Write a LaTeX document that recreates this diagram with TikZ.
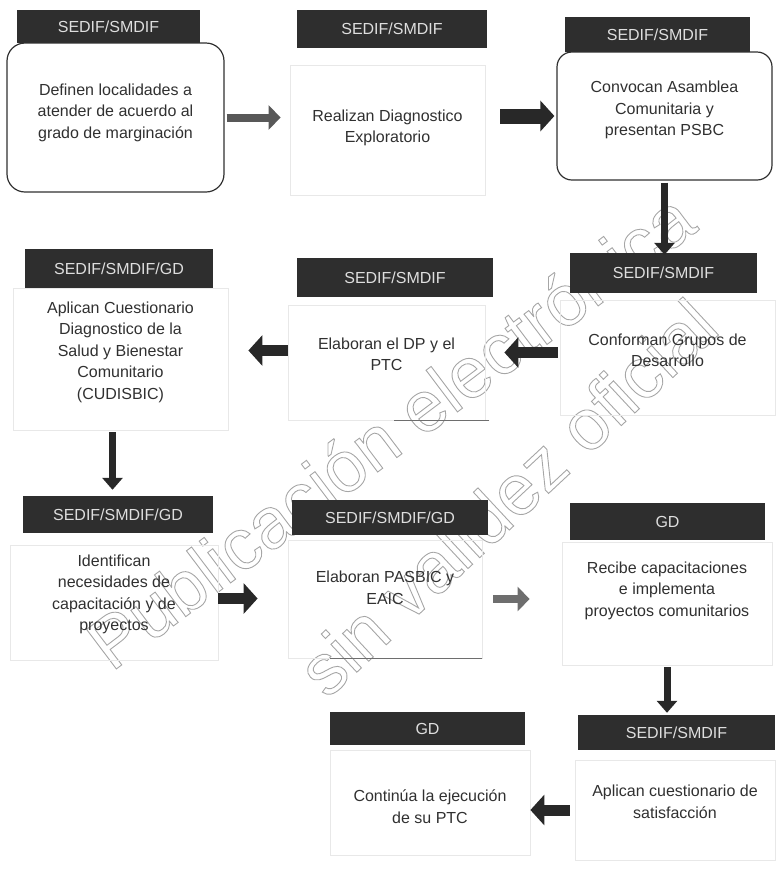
\documentclass[tikz,border=0pt]{standalone}
\usepackage{fontspec}
\setmainfont{Liberation Sans}
\usetikzlibrary{arrows.meta}

\definecolor{hdrgray}{RGB}{46,46,46}
\definecolor{hdrtext}{RGB}{222,222,222}
\definecolor{inkgray}{RGB}{48,48,48}
\definecolor{arrowdark}{RGB}{40,40,40}
\definecolor{arrowmid}{RGB}{88,88,88}
\definecolor{arrowlight}{RGB}{110,110,110}

% outlined letters for the watermark
\newcommand\hollow[1]{\special{pdf:literal direct 1 Tr 0.9 w}#1\special{pdf:literal direct 0 Tr}}

\tikzset{
  hdr/.style={fill=hdrgray, text=hdrtext, inner sep=0pt},
  sz/.style 2 args={minimum width=#1pt, minimum height=#2pt},
  stepbox/.style={draw=black!9, line width=0.8pt, inner sep=0pt},
  roundbox/.style={draw=inkgray, line width=1.2pt, rounded corners=18pt, inner sep=0pt},
  txt/.style={align=center, text=inkgray},
  arr/.style={draw=arrowdark, line width=11pt, -{Triangle[length=14pt, width=30pt]}},
  varr/.style={draw=arrowdark, line width=7pt, -{Triangle[length=12pt, width=20pt]}},
  garr/.style={draw=arrowlight, line width=8pt, -{Triangle[length=12pt, width=24pt]}},
  wmark/.style={text=black!35, font=\fontsize{72}{72}\selectfont}
}

\begin{document}
\begin{tikzpicture}[x=1pt, y=-1pt, font=\fontsize{16}{21.5}\selectfont]
  \useasboundingbox (0,0) rectangle (778,871);

  % watermark
  \node[wmark, rotate=37] (W1) at (390,430) {\hollow{Publicación electrónica}};
  \node[wmark, rotate=43] (W2) at (507,497) {\hollow{sin validez oficial}};

  % headers
  \node[hdr, sz={183}{33}] (H1)  at (108.5,26.5) {SEDIF/SMDIF};
  \node[hdr, sz={190}{38}] (H2)  at (392,29)     {SEDIF/SMDIF};
  \node[hdr, sz={185}{35}] (H3)  at (657.5,34.5) {SEDIF/SMDIF};
  \node[hdr, sz={188}{39}] (H4)  at (119,268.5)  {SEDIF/SMDIF/GD};
  \node[hdr, sz={196}{39}] (H5)  at (395,277.5)  {SEDIF/SMDIF};
  \node[hdr, sz={187}{40}] (H6)  at (663.5,273)  {SEDIF/SMDIF};
  \node[hdr, sz={190}{37}] (H7)  at (118,514.5)  {SEDIF/SMDIF/GD};
  \node[hdr, sz={196}{35}] (H8)  at (390,517.5)  {SEDIF/SMDIF/GD};
  \node[hdr, sz={195}{37}] (H9)  at (667.5,521.5) {GD};
  \node[hdr, sz={195}{33}] (H10) at (427.5,728.5) {GD};
  \node[hdr, sz={197}{35}] (H11) at (676.5,732.5) {SEDIF/SMDIF};

  % step boxes
  \node[roundbox, sz={217}{149}] (B1) at (115.5,117.5) {};
  \node[stepbox,  sz={195}{130}] (B2) at (387.5,130) {};
  \node[roundbox, sz={215}{128}, rounded corners=15pt] (B3) at (664.5,116) {};
  \node[stepbox,  sz={215}{142}] (B4) at (120.5,359) {};
  \node[stepbox,  sz={197}{115}] (B5) at (386.5,362.5) {};
  \node[stepbox,  sz={215}{115}] (B6) at (667.5,357.5) {};
  \node[stepbox,  sz={208}{115}] (B7) at (114,602.5) {};
  \node[stepbox,  sz={194}{118}] (B8) at (385,599) {};
  \node[stepbox,  sz={210}{123}] (B9) at (667,603.5) {};
  \node[stepbox,  sz={200}{105}] (B10) at (430,802.5) {};
  \node[stepbox,  sz={200}{100}] (B11) at (675,810) {};
  \draw[inkgray!70, line width=1pt] ([xshift=4pt]B5.south east) -- ++(-95,0);
  \draw[inkgray!70, line width=1pt] (B8.south east) -- ++(-152,0);

  % texts
  \node[txt, yshift=5pt]  (T1)  at (B1)  {Definen localidades a\\atender de acuerdo al\\grado de marginación};
  \node[txt, yshift=2pt]  (T2)  at (B2)  {Realizan Diagnostico\\Exploratorio};
  \node[txt, yshift=6pt]  (T3)  at (B3)  {Convocan Asamblea\\Comunitaria y\\presentan PSBC};
  \node[txt, yshift=7pt]  (T4)  at (B4)  {Aplican Cuestionario\\Diagnostico de la\\Salud y Bienestar\\Comunitario\\(CUDISBIC)};
  \node[txt, yshift=8pt]  (T5)  at (B5)  {Elaboran el DP y el\\PTC};
  \node[txt, yshift=7pt]  (T6)  at (B6)  {Conforman Grupos de\\Desarrollo};
  \node[txt, yshift=8pt]  (T7)  at (B7)  {Identifican\\necesidades de\\capacitación y de\\proyectos};
  \node[txt, yshift=11pt] (T8)  at (B8)  {Elaboran PASBIC y\\EAIC};
  \node[txt, yshift=13pt] (T9)  at (B9)  {Recibe capacitaciones\\e implementa\\proyectos comunitarios};
  \node[txt, yshift=-4pt] (T10) at (B10) {Continúa la ejecución\\de su PTC};
  \node[txt, yshift=8pt]  (T11) at (B11) {Aplican cuestionario de\\satisfacción};

  % connectors
  \draw[garr, draw=arrowmid, shorten <=2pt, shorten >=9pt] (B1.east) -- (B1.east -| B2.west);
  \draw[arr, line width=15pt, shorten <=15pt, shorten >=2pt] (B3.west -| B2.east) -- (B3.west);
  \draw[varr, shorten <=2pt, shorten >=-2pt] (B3.south) -- (B3.south |- H6.north);
  \draw[arr, shorten <=2pt, shorten >=19pt] ([yshift=5pt]B6.west) -- ([yshift=5pt]B6.west -| B5.east);
  \draw[arr, shorten >=20pt] ([yshift=12pt]B5.west) -- ([yshift=12pt]B5.west -| B4.east);
  \draw[varr, shorten <=2pt, shorten >=6pt] ([xshift=-8pt]B4.south) -- ([xshift=-8pt]B4.south |- H7.north);
  \draw[arr, shorten >=30pt] ([yshift=4pt]B7.east) -- ([yshift=4pt]B7.east -| B8.west);
  \draw[garr, shorten <=11pt, shorten >=32pt] (B8.east) -- (B8.east -| B9.west);
  \draw[varr, shorten <=2pt, shorten >=2pt] (B9.south) -- (B9.south |- H11.north);
  \draw[arr, shorten <=5pt] (B11.west) -- (B11.west -| B10.east);
\end{tikzpicture}
\end{document}
